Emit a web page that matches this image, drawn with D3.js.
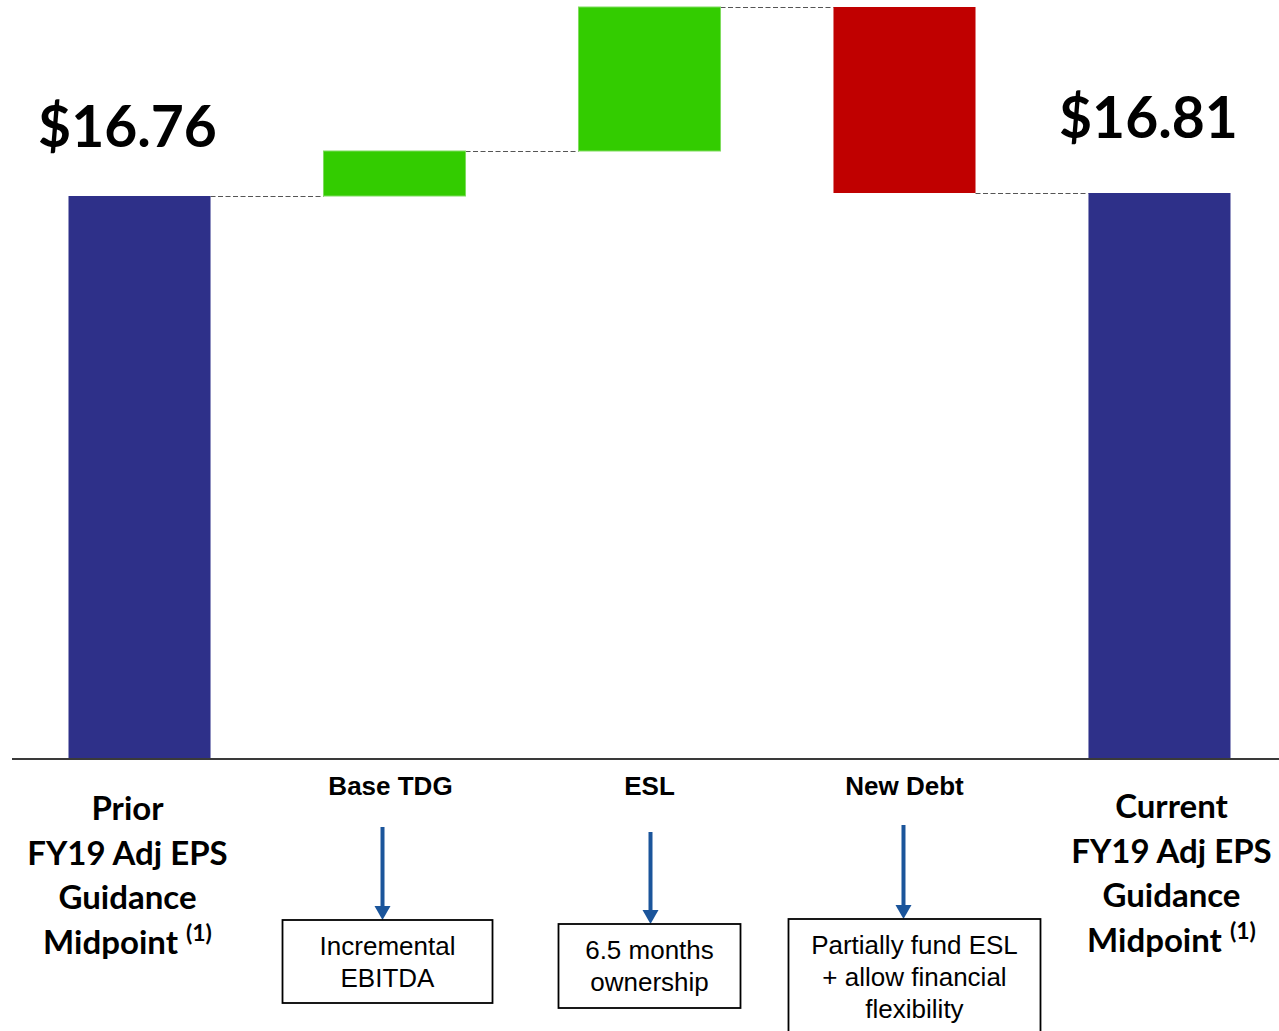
<!DOCTYPE html>
<html>
<head>
<meta charset="utf-8">
<script src="https://cdn.jsdelivr.net/npm/d3@7"></script>
<style>
  html, body { margin: 0; padding: 0; background: #fff; }
  svg { display: block; }
</style>
</head>
<body>
<svg id="chart" width="1279" height="1031"></svg>
<script>
// ---- data ----
const categories = ["Prior", "Base TDG", "ESL", "New Debt", "Current"];
const stepValues = [16.76, 0.75, 2.40, -3.10, 16.81];
const stepTypes = ["total", "delta", "delta", "delta", "total"];
const valueLabels = ["$16.76", "", "", "", "$16.81"];
const totalLabelLines = [
  ["Prior", "FY19 Adj EPS", "Guidance", "Midpoint"],
  null, null, null,
  ["Current", "FY19 Adj EPS", "Guidance", "Midpoint"]
];
const driverLabels = ["", "Base TDG", "ESL", "New Debt", ""];
const driverNotes = [
  null,
  ["Incremental", "EBITDA"],
  ["6.5 months", "ownership"],
  ["Partially fund ESL", "+ allow financial", "flexibility"],
  null
];
const axisDomain = [7.377, 19.91];

// ---- computed waterfall ----
let running = 0;
const bars = categories.map((c, i) => {
  let y0, y1;
  if (stepTypes[i] === "total") {
    y0 = axisDomain[0]; y1 = stepValues[i]; running = stepValues[i];
  } else {
    y0 = running; y1 = running + stepValues[i]; running = y1;
  }
  return { cat: c, i, type: stepTypes[i], v: stepValues[i], lo: Math.min(y0, y1), hi: Math.max(y0, y1), end: y1 };
});

const svg = d3.select("#chart");
const x = d3.scaleBand().domain(categories).range([17.5, 1281.5]).paddingInner(0.443).paddingOuter(0.2);
const y = d3.scaleLinear().domain(axisDomain).range([759, 7]);

const colorFor = d => d.type === "total" ? "#2E3089" : (d.v >= 0 ? "#33CC00" : "#C00000");

// connectors
for (let i = 0; i < bars.length - 1; i++) {
  const level = bars[i].end;
  svg.append("line")
    .attr("x1", x(bars[i].cat) + x.bandwidth())
    .attr("x2", x(bars[i + 1].cat))
    .attr("y1", y(level) + 0.5).attr("y2", y(level) + 0.5)
    .attr("stroke", "#555").attr("stroke-width", 1)
    .attr("stroke-dasharray", "5,2.5");
}

// bars
svg.selectAll("rect.bar").data(bars).enter().append("rect")
  .attr("class", "bar")
  .attr("x", d => x(d.cat))
  .attr("width", x.bandwidth())
  .attr("y", d => y(d.hi))
  .attr("height", d => y(d.lo) - y(d.hi))
  .attr("fill", colorFor)
  .attr("stroke", d => (d.type === "delta" && d.v >= 0) ? "#7fdc5f" : "none")
  .attr("stroke-width", 1);

// baseline
svg.append("line")
  .attr("x1", 12).attr("x2", 1279)
  .attr("y1", y(axisDomain[0])).attr("y2", y(axisDomain[0]))
  .attr("stroke", "#3a3a3a").attr("stroke-width", 2);

// value labels
const bigFont = "Lato, 'Open Sans', sans-serif";
const labelDy = { 0: -49, 4: -55 };
const labelDx = { 0: -12, 4: -11 };
bars.forEach(d => {
  if (!valueLabels[d.i]) return;
  svg.append("text")
    .attr("x", x(d.cat) + x.bandwidth() / 2 + labelDx[d.i])
    .attr("y", y(d.end) + labelDy[d.i])
    .attr("text-anchor", "middle")
    .attr("font-family", bigFont).attr("font-weight", 700)
    .attr("font-size", 57).attr("fill", "#000")
    .text(valueLabels[d.i]);
});

// total category labels
const totalLabelTop = { 0: 820, 4: 818 };
const totalLabelDx = { 0: -12, 4: 12 };
bars.forEach(d => {
  const lines = totalLabelLines[d.i];
  if (!lines) return;
  const cx = x(d.cat) + x.bandwidth() / 2 + totalLabelDx[d.i];
  const t = svg.append("text")
    .attr("text-anchor", "middle")
    .attr("font-family", bigFont).attr("font-weight", 700)
    .attr("font-size", 33).attr("fill", "#000");
  lines.forEach((ln, k) => {
    const ts = t.append("tspan").attr("x", cx).attr("y", totalLabelTop[d.i] + k * 44.5).text(ln);
    if (k === lines.length - 1) {
      ts.text(ln + "\u00A0");
      t.append("tspan").attr("font-size", 23).attr("dy", -13).text("(1)");
    }
  });
});

// driver labels, arrows, note boxes
const arrowColor = "#1B559B";
const arrowTop = { 1: 827, 2: 832, 3: 825 };
const boxTop = { 1: 920, 2: 924, 3: 919 };
const boxWidth = { 1: 210, 2: 182, 3: 252 };
const boxHeight = { 1: 83, 2: 84, 3: 130 };
const boxDx = { 1: -7, 2: 0, 3: 10 };
const arrowDx = { 1: -12, 2: 1, 3: -1 };
bars.forEach(d => {
  if (!driverLabels[d.i]) return;
  const cx = x(d.cat) + x.bandwidth() / 2;
  svg.append("text")
    .attr("x", cx - (d.i === 1 ? 4 : 0)).attr("y", 795)
    .attr("text-anchor", "middle")
    .attr("font-family", "'Liberation Sans', Arial, sans-serif")
    .attr("font-weight", 700).attr("font-size", 26).attr("fill", "#000")
    .text(driverLabels[d.i]);
  // arrow
  const ax = cx + arrowDx[d.i];
  const tip = boxTop[d.i];
  svg.append("line")
    .attr("x1", ax).attr("x2", ax)
    .attr("y1", arrowTop[d.i]).attr("y2", tip - 12)
    .attr("stroke", arrowColor).attr("stroke-width", 4);
  svg.append("path")
    .attr("d", `M${ax - 8},${tip - 14} L${ax + 8},${tip - 14} L${ax},${tip} Z`)
    .attr("fill", arrowColor);
  // box
  const bx = cx + boxDx[d.i] - boxWidth[d.i] / 2;
  svg.append("rect")
    .attr("x", bx).attr("y", boxTop[d.i])
    .attr("width", boxWidth[d.i]).attr("height", boxHeight[d.i])
    .attr("fill", "none").attr("stroke", "#000").attr("stroke-width", 1.8);
  const notes = driverNotes[d.i];
  const t = svg.append("text")
    .attr("text-anchor", "middle")
    .attr("font-family", "'Liberation Sans', Arial, sans-serif")
    .attr("font-size", 26).attr("fill", "#000");
  notes.forEach((ln, k) => {
    t.append("tspan").attr("x", cx + boxDx[d.i]).attr("y", boxTop[d.i] + 35 + k * 32).text(ln);
  });
});
</script>
</body>
</html>
